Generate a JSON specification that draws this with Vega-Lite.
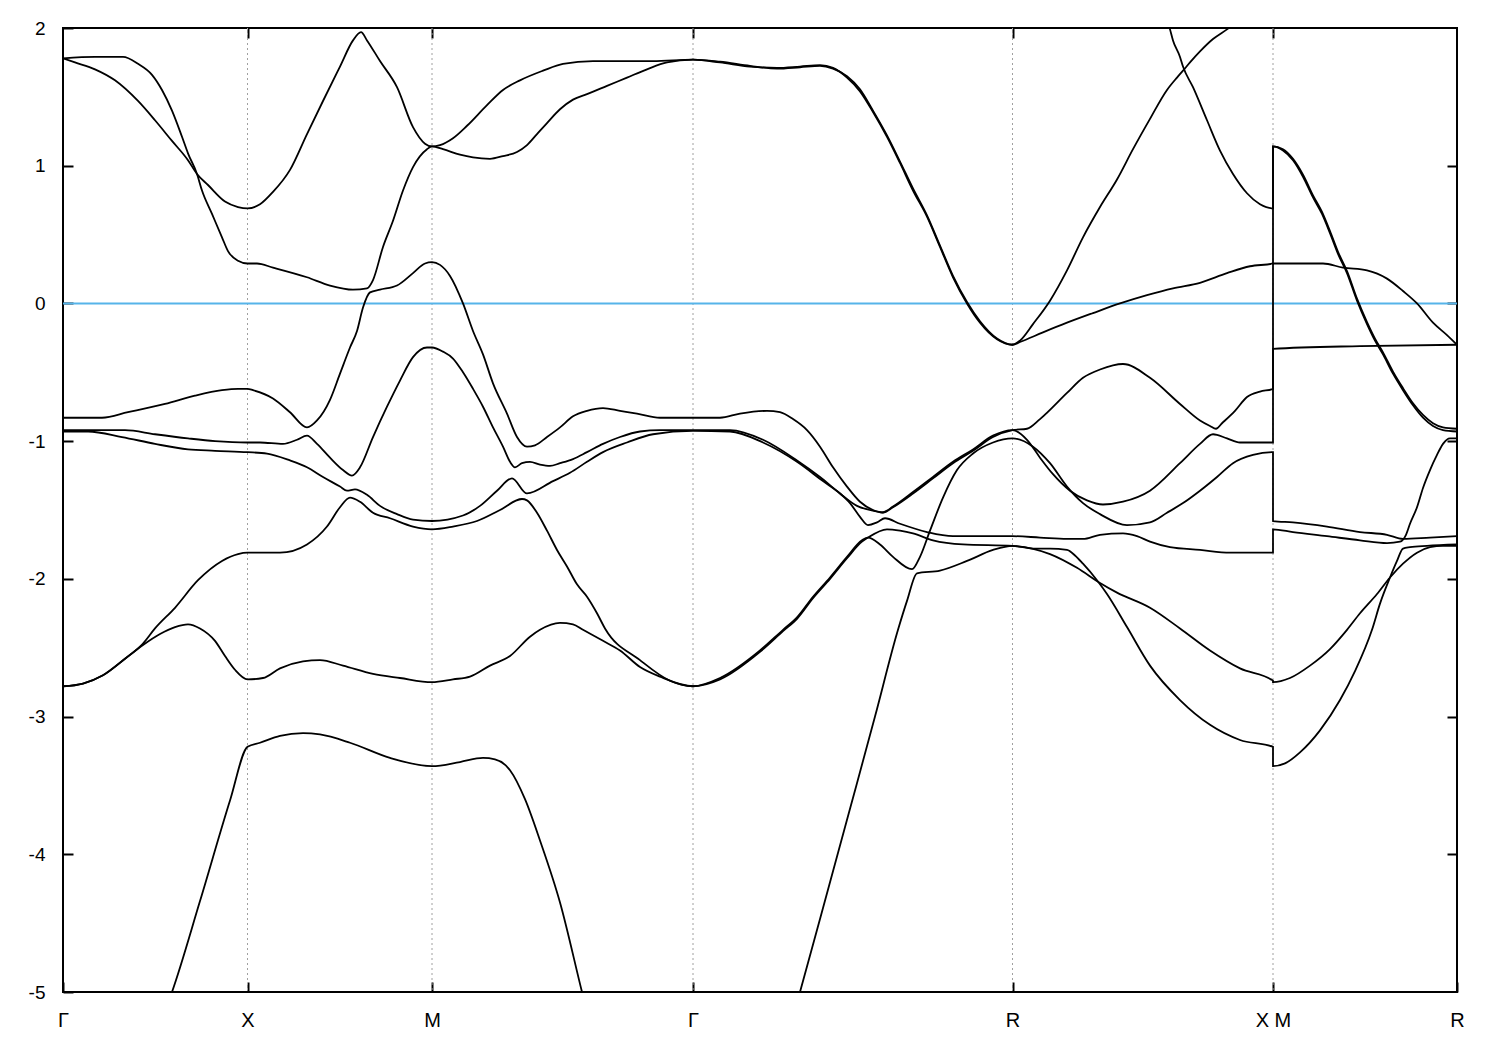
{
  "$schema": "https://vega.github.io/schema/vega-lite/v6.json",
  "width": 1394,
  "height": 964,
  "autosize": {"type": "none"},
  "padding": {"left": 63, "top": 28, "right": 43, "bottom": 58},
  "background": "white",
  "config": {"view": {"stroke": "black", "strokeWidth": 2}, "font": "Liberation Sans"},
  "datasets": {
    "bands": [
{"b":"1","k":0,"e":1.78},{"b":"1","k":12,"e":1.75},{"b":"1","k":32,"e":1.70},{"b":"1","k":52,"e":1.62},{"b":"1","k":75,"e":1.47},{"b":"1","k":92,"e":1.33},{"b":"1","k":109,"e":1.18},{"b":"1","k":125,"e":1.04},{"b":"1","k":134,"e":0.94},{"b":"1","k":145,"e":0.86},{"b":"1","k":162,"e":0.74},{"b":"1","k":175,"e":0.70},{"b":"1","k":184.5,"e":0.69},{"b":"1","k":197,"e":0.72},{"b":"1","k":210,"e":0.81},{"b":"1","k":227,"e":0.97},{"b":"1","k":244,"e":1.23},{"b":"1","k":260,"e":1.47},{"b":"1","k":277,"e":1.72},{"b":"1","k":290,"e":1.91},{"b":"1","k":298,"e":1.97},{"b":"1","k":304,"e":1.91},{"b":"1","k":317,"e":1.76},{"b":"1","k":334,"e":1.57},{"b":"1","k":350,"e":1.28},{"b":"1","k":362,"e":1.16},{"b":"1","k":369,"e":1.14},{"b":"1","k":377,"e":1.15},{"b":"1","k":390,"e":1.20},{"b":"1","k":404,"e":1.29},{"b":"1","k":424,"e":1.44},{"b":"1","k":440,"e":1.55},{"b":"1","k":457,"e":1.62},{"b":"1","k":480,"e":1.69},{"b":"1","k":500,"e":1.74},{"b":"1","k":530,"e":1.76},{"b":"1","k":590,"e":1.76},{"b":"1","k":630,"e":1.77},{"b":"1","k":657,"e":1.75},{"b":"1","k":687,"e":1.72},{"b":"1","k":714,"e":1.71},{"b":"1","k":737,"e":1.72},{"b":"1","k":757,"e":1.73},{"b":"1","k":770,"e":1.71},{"b":"1","k":784,"e":1.64},{"b":"1","k":797,"e":1.54},{"b":"1","k":810,"e":1.39},{"b":"1","k":824,"e":1.21},{"b":"1","k":837,"e":1.02},{"b":"1","k":850,"e":0.82},{"b":"1","k":864,"e":0.63},{"b":"1","k":877,"e":0.41},{"b":"1","k":890,"e":0.19},{"b":"1","k":904,"e":0.00},{"b":"1","k":917,"e":-0.14},{"b":"1","k":934,"e":-0.26},{"b":"1","k":949.5,"e":-0.30},{"b":"1","k":957,"e":-0.27},{"b":"1","k":970,"e":-0.15},{"b":"1","k":987,"e":0.02},{"b":"1","k":1004,"e":0.24},{"b":"1","k":1020,"e":0.48},{"b":"1","k":1037,"e":0.70},{"b":"1","k":1054,"e":0.90},{"b":"1","k":1070,"e":1.12},{"b":"1","k":1087,"e":1.34},{"b":"1","k":1104,"e":1.55},{"b":"1","k":1114,"e":1.64},{"b":"1","k":1120,"e":1.69},{"b":"1","k":1127,"e":1.75},{"b":"1","k":1137,"e":1.83},{"b":"1","k":1150,"e":1.92},{"b":"1","k":1164,"e":1.99},{"b":"1","k":1210,"e":2.25},
{"b":"2","k":0,"e":1.78},{"b":"2","k":32,"e":1.79},{"b":"2","k":60,"e":1.79},{"b":"2","k":75,"e":1.74},{"b":"2","k":89,"e":1.66},{"b":"2","k":99,"e":1.55},{"b":"2","k":109,"e":1.40},{"b":"2","k":119,"e":1.21},{"b":"2","k":125,"e":1.09},{"b":"2","k":134,"e":0.94},{"b":"2","k":139,"e":0.82},{"b":"2","k":149,"e":0.65},{"b":"2","k":159,"e":0.48},{"b":"2","k":165,"e":0.38},{"b":"2","k":175,"e":0.31},{"b":"2","k":184.5,"e":0.29},{"b":"2","k":194,"e":0.29},{"b":"2","k":210,"e":0.26},{"b":"2","k":244,"e":0.19},{"b":"2","k":267,"e":0.13},{"b":"2","k":290,"e":0.10},{"b":"2","k":304,"e":0.11},{"b":"2","k":310,"e":0.17},{"b":"2","k":320,"e":0.41},{"b":"2","k":330,"e":0.60},{"b":"2","k":340,"e":0.82},{"b":"2","k":350,"e":0.99},{"b":"2","k":364,"e":1.12},{"b":"2","k":369,"e":1.14},{"b":"2","k":380,"e":1.12},{"b":"2","k":397,"e":1.08},{"b":"2","k":410,"e":1.06},{"b":"2","k":427,"e":1.05},{"b":"2","k":440,"e":1.07},{"b":"2","k":454,"e":1.10},{"b":"2","k":464,"e":1.15},{"b":"2","k":474,"e":1.23},{"b":"2","k":484,"e":1.31},{"b":"2","k":497,"e":1.41},{"b":"2","k":510,"e":1.48},{"b":"2","k":524,"e":1.52},{"b":"2","k":544,"e":1.58},{"b":"2","k":564,"e":1.64},{"b":"2","k":584,"e":1.70},{"b":"2","k":604,"e":1.75},{"b":"2","k":630,"e":1.77},{"b":"2","k":657,"e":1.755},{"b":"2","k":687,"e":1.725},{"b":"2","k":714,"e":1.705},{"b":"2","k":737,"e":1.715},{"b":"2","k":757,"e":1.725},{"b":"2","k":770,"e":1.705},{"b":"2","k":784,"e":1.65},{"b":"2","k":797,"e":1.555},{"b":"2","k":810,"e":1.40},{"b":"2","k":824,"e":1.22},{"b":"2","k":837,"e":1.03},{"b":"2","k":850,"e":0.835},{"b":"2","k":864,"e":0.64},{"b":"2","k":877,"e":0.42},{"b":"2","k":890,"e":0.20},{"b":"2","k":904,"e":0.01},{"b":"2","k":917,"e":-0.13},{"b":"2","k":934,"e":-0.255},{"b":"2","k":949.5,"e":-0.30},{"b":"2","k":957,"e":-0.28},{"b":"2","k":980,"e":-0.21},{"b":"2","k":1004,"e":-0.14},{"b":"2","k":1030,"e":-0.07},{"b":"2","k":1057,"e":0.00},{"b":"2","k":1084,"e":0.06},{"b":"2","k":1110,"e":0.11},{"b":"2","k":1137,"e":0.15},{"b":"2","k":1164,"e":0.22},{"b":"2","k":1187,"e":0.27},{"b":"2","k":1210,"e":0.29},{"b":"2","k":1210,"e":1.14},{"b":"2","k":1220,"e":1.11},{"b":"2","k":1230,"e":1.04},{"b":"2","k":1240,"e":0.92},{"b":"2","k":1250,"e":0.77},{"b":"2","k":1259,"e":0.65},{"b":"2","k":1267,"e":0.51},{"b":"2","k":1275,"e":0.36},{"b":"2","k":1284,"e":0.22},{"b":"2","k":1294,"e":0.02},{"b":"2","k":1304,"e":-0.15},{"b":"2","k":1312,"e":-0.27},{"b":"2","k":1320,"e":-0.37},{"b":"2","k":1330,"e":-0.51},{"b":"2","k":1340,"e":-0.63},{"b":"2","k":1350,"e":-0.74},{"b":"2","k":1360,"e":-0.83},{"b":"2","k":1370,"e":-0.89},{"b":"2","k":1380,"e":-0.92},{"b":"2","k":1394,"e":-0.93},
{"b":"9","k":1099,"e":2.2},{"b":"9","k":1107,"e":1.99},{"b":"9","k":1110,"e":1.91},{"b":"9","k":1117,"e":1.79},{"b":"9","k":1120,"e":1.72},{"b":"9","k":1130,"e":1.57},{"b":"9","k":1144,"e":1.33},{"b":"9","k":1157,"e":1.11},{"b":"9","k":1170,"e":0.94},{"b":"9","k":1184,"e":0.80},{"b":"9","k":1197,"e":0.72},{"b":"9","k":1210,"e":0.69},{"b":"9","k":1210,"e":1.14},{"b":"9","k":1220,"e":1.12},{"b":"9","k":1230,"e":1.05},{"b":"9","k":1240,"e":0.935},{"b":"9","k":1250,"e":0.785},{"b":"9","k":1259,"e":0.665},{"b":"9","k":1267,"e":0.525},{"b":"9","k":1275,"e":0.375},{"b":"9","k":1284,"e":0.235},{"b":"9","k":1294,"e":0.035},{"b":"9","k":1304,"e":-0.135},{"b":"9","k":1312,"e":-0.255},{"b":"9","k":1320,"e":-0.355},{"b":"9","k":1330,"e":-0.495},{"b":"9","k":1340,"e":-0.615},{"b":"9","k":1350,"e":-0.725},{"b":"9","k":1360,"e":-0.81},{"b":"9","k":1370,"e":-0.87},{"b":"9","k":1380,"e":-0.90},{"b":"9","k":1394,"e":-0.91},
{"b":"3","k":0,"e":-0.83},{"b":"3","k":39,"e":-0.83},{"b":"3","k":65,"e":-0.79},{"b":"3","k":102,"e":-0.73},{"b":"3","k":132,"e":-0.67},{"b":"3","k":159,"e":-0.63},{"b":"3","k":175,"e":-0.62},{"b":"3","k":184.5,"e":-0.62},{"b":"3","k":190,"e":-0.63},{"b":"3","k":210,"e":-0.69},{"b":"3","k":227,"e":-0.79},{"b":"3","k":244,"e":-0.90},{"b":"3","k":254,"e":-0.85},{"b":"3","k":267,"e":-0.70},{"b":"3","k":277,"e":-0.51},{"b":"3","k":287,"e":-0.32},{"b":"3","k":294,"e":-0.20},{"b":"3","k":300,"e":-0.03},{"b":"3","k":307,"e":0.08},{"b":"3","k":317,"e":0.10},{"b":"3","k":334,"e":0.13},{"b":"3","k":350,"e":0.22},{"b":"3","k":362,"e":0.29},{"b":"3","k":369,"e":0.30},{"b":"3","k":377,"e":0.28},{"b":"3","k":387,"e":0.20},{"b":"3","k":400,"e":0.00},{"b":"3","k":410,"e":-0.20},{"b":"3","k":420,"e":-0.37},{"b":"3","k":430,"e":-0.58},{"b":"3","k":444,"e":-0.80},{"b":"3","k":454,"e":-0.97},{"b":"3","k":464,"e":-1.04},{"b":"3","k":472,"e":-1.03},{"b":"3","k":484,"e":-0.97},{"b":"3","k":497,"e":-0.90},{"b":"3","k":510,"e":-0.82},{"b":"3","k":524,"e":-0.78},{"b":"3","k":540,"e":-0.76},{"b":"3","k":557,"e":-0.78},{"b":"3","k":574,"e":-0.80},{"b":"3","k":597,"e":-0.83},{"b":"3","k":630,"e":-0.83},{"b":"3","k":657,"e":-0.83},{"b":"3","k":677,"e":-0.80},{"b":"3","k":704,"e":-0.78},{"b":"3","k":717,"e":-0.79},{"b":"3","k":730,"e":-0.84},{"b":"3","k":744,"e":-0.92},{"b":"3","k":757,"e":-1.04},{"b":"3","k":770,"e":-1.19},{"b":"3","k":784,"e":-1.33},{"b":"3","k":797,"e":-1.44},{"b":"3","k":810,"e":-1.50},{"b":"3","k":820,"e":-1.52},{"b":"3","k":830,"e":-1.48},{"b":"3","k":850,"e":-1.38},{"b":"3","k":870,"e":-1.27},{"b":"3","k":890,"e":-1.16},{"b":"3","k":910,"e":-1.07},{"b":"3","k":930,"e":-0.97},{"b":"3","k":949.5,"e":-0.92},{"b":"3","k":964,"e":-0.91},{"b":"3","k":977,"e":-0.84},{"b":"3","k":1004,"e":-0.65},{"b":"3","k":1020,"e":-0.54},{"b":"3","k":1037,"e":-0.48},{"b":"3","k":1060,"e":-0.44},{"b":"3","k":1087,"e":-0.54},{"b":"3","k":1117,"e":-0.73},{"b":"3","k":1137,"e":-0.85},{"b":"3","k":1147,"e":-0.89},{"b":"3","k":1153,"e":-0.91},{"b":"3","k":1159,"e":-0.87},{"b":"3","k":1172,"e":-0.78},{"b":"3","k":1184,"e":-0.68},{"b":"3","k":1197,"e":-0.64},{"b":"3","k":1210,"e":-0.62},{"b":"3","k":1210,"e":0.29},{"b":"3","k":1237,"e":0.29},{"b":"3","k":1260,"e":0.29},{"b":"3","k":1280,"e":0.26},{"b":"3","k":1304,"e":0.24},{"b":"3","k":1324,"e":0.18},{"b":"3","k":1340,"e":0.09},{"b":"3","k":1354,"e":0.00},{"b":"3","k":1370,"e":-0.14},{"b":"3","k":1384,"e":-0.23},{"b":"3","k":1394,"e":-0.30},
{"b":"4","k":0,"e":-0.92},{"b":"4","k":62,"e":-0.92},{"b":"4","k":92,"e":-0.95},{"b":"4","k":125,"e":-0.98},{"b":"4","k":152,"e":-1.00},{"b":"4","k":184.5,"e":-1.01},{"b":"4","k":197,"e":-1.01},{"b":"4","k":220,"e":-1.02},{"b":"4","k":234,"e":-0.99},{"b":"4","k":244,"e":-0.96},{"b":"4","k":254,"e":-1.02},{"b":"4","k":267,"e":-1.12},{"b":"4","k":280,"e":-1.21},{"b":"4","k":289,"e":-1.25},{"b":"4","k":297,"e":-1.19},{"b":"4","k":310,"e":-0.97},{"b":"4","k":324,"e":-0.75},{"b":"4","k":337,"e":-0.56},{"b":"4","k":350,"e":-0.39},{"b":"4","k":364,"e":-0.32},{"b":"4","k":369,"e":-0.32},{"b":"4","k":380,"e":-0.35},{"b":"4","k":390,"e":-0.40},{"b":"4","k":400,"e":-0.50},{"b":"4","k":410,"e":-0.62},{"b":"4","k":420,"e":-0.75},{"b":"4","k":430,"e":-0.90},{"b":"4","k":440,"e":-1.04},{"b":"4","k":447,"e":-1.15},{"b":"4","k":452,"e":-1.19},{"b":"4","k":459,"e":-1.16},{"b":"4","k":467,"e":-1.15},{"b":"4","k":477,"e":-1.17},{"b":"4","k":487,"e":-1.18},{"b":"4","k":497,"e":-1.16},{"b":"4","k":510,"e":-1.13},{"b":"4","k":524,"e":-1.08},{"b":"4","k":540,"e":-1.02},{"b":"4","k":557,"e":-0.97},{"b":"4","k":577,"e":-0.93},{"b":"4","k":597,"e":-0.92},{"b":"4","k":630,"e":-0.92},{"b":"4","k":667,"e":-0.92},{"b":"4","k":700,"e":-0.99},{"b":"4","k":734,"e":-1.14},{"b":"4","k":757,"e":-1.26},{"b":"4","k":777,"e":-1.38},{"b":"4","k":794,"e":-1.47},{"b":"4","k":810,"e":-1.505},{"b":"4","k":820,"e":-1.515},{"b":"4","k":830,"e":-1.475},{"b":"4","k":850,"e":-1.37},{"b":"4","k":870,"e":-1.26},{"b":"4","k":890,"e":-1.15},{"b":"4","k":910,"e":-1.06},{"b":"4","k":930,"e":-0.96},{"b":"4","k":949.5,"e":-0.92},{"b":"4","k":964,"e":-0.99},{"b":"4","k":977,"e":-1.12},{"b":"4","k":990,"e":-1.24},{"b":"4","k":1007,"e":-1.36},{"b":"4","k":1024,"e":-1.43},{"b":"4","k":1040,"e":-1.46},{"b":"4","k":1060,"e":-1.44},{"b":"4","k":1087,"e":-1.36},{"b":"4","k":1117,"e":-1.16},{"b":"4","k":1137,"e":-1.02},{"b":"4","k":1150,"e":-0.95},{"b":"4","k":1164,"e":-0.98},{"b":"4","k":1177,"e":-1.01},{"b":"4","k":1210,"e":-1.01},{"b":"4","k":1210,"e":-0.33},{"b":"4","k":1297,"e":-0.31},{"b":"4","k":1394,"e":-0.30},
{"b":"5","k":0,"e":-0.93},{"b":"5","k":25,"e":-0.93},{"b":"5","k":59,"e":-0.97},{"b":"5","k":92,"e":-1.02},{"b":"5","k":125,"e":-1.06},{"b":"5","k":152,"e":-1.07},{"b":"5","k":184.5,"e":-1.08},{"b":"5","k":204,"e":-1.09},{"b":"5","k":227,"e":-1.14},{"b":"5","k":244,"e":-1.19},{"b":"5","k":260,"e":-1.26},{"b":"5","k":277,"e":-1.33},{"b":"5","k":284,"e":-1.36},{"b":"5","k":292,"e":-1.35},{"b":"5","k":304,"e":-1.39},{"b":"5","k":317,"e":-1.47},{"b":"5","k":334,"e":-1.53},{"b":"5","k":350,"e":-1.57},{"b":"5","k":369,"e":-1.58},{"b":"5","k":400,"e":-1.54},{"b":"5","k":417,"e":-1.47},{"b":"5","k":434,"e":-1.36},{"b":"5","k":449,"e":-1.27},{"b":"5","k":464,"e":-1.38},{"b":"5","k":490,"e":-1.29},{"b":"5","k":507,"e":-1.23},{"b":"5","k":524,"e":-1.15},{"b":"5","k":540,"e":-1.08},{"b":"5","k":564,"e":-1.01},{"b":"5","k":590,"e":-0.95},{"b":"5","k":630,"e":-0.925},{"b":"5","k":667,"e":-0.93},{"b":"5","k":700,"e":-1.01},{"b":"5","k":734,"e":-1.15},{"b":"5","k":760,"e":-1.29},{"b":"5","k":777,"e":-1.38},{"b":"5","k":787,"e":-1.45},{"b":"5","k":797,"e":-1.55},{"b":"5","k":805,"e":-1.61},{"b":"5","k":814,"e":-1.59},{"b":"5","k":822,"e":-1.56},{"b":"5","k":837,"e":-1.60},{"b":"5","k":864,"e":-1.66},{"b":"5","k":890,"e":-1.69},{"b":"5","k":949.5,"e":-1.69},{"b":"5","k":977,"e":-1.70},{"b":"5","k":1004,"e":-1.71},{"b":"5","k":1020,"e":-1.71},{"b":"5","k":1037,"e":-1.68},{"b":"5","k":1060,"e":-1.67},{"b":"5","k":1074,"e":-1.69},{"b":"5","k":1087,"e":-1.73},{"b":"5","k":1107,"e":-1.77},{"b":"5","k":1137,"e":-1.79},{"b":"5","k":1167,"e":-1.81},{"b":"5","k":1210,"e":-1.81},{"b":"5","k":1210,"e":-1.64},{"b":"5","k":1230,"e":-1.66},{"b":"5","k":1264,"e":-1.69},{"b":"5","k":1297,"e":-1.72},{"b":"5","k":1324,"e":-1.74},{"b":"5","k":1337,"e":-1.73},{"b":"5","k":1343,"e":-1.68},{"b":"5","k":1347,"e":-1.60},{"b":"5","k":1354,"e":-1.48},{"b":"5","k":1360,"e":-1.34},{"b":"5","k":1367,"e":-1.21},{"b":"5","k":1374,"e":-1.10},{"b":"5","k":1380,"e":-1.02},{"b":"5","k":1387,"e":-0.98},{"b":"5","k":1394,"e":-0.98},
{"b":"6","k":0,"e":-2.78},{"b":"6","k":20,"e":-2.76},{"b":"6","k":40,"e":-2.70},{"b":"6","k":62,"e":-2.58},{"b":"6","k":80,"e":-2.47},{"b":"6","k":92,"e":-2.36},{"b":"6","k":112,"e":-2.21},{"b":"6","k":135,"e":-2.01},{"b":"6","k":159,"e":-1.87},{"b":"6","k":175,"e":-1.82},{"b":"6","k":184.5,"e":-1.81},{"b":"6","k":217,"e":-1.81},{"b":"6","k":244,"e":-1.75},{"b":"6","k":264,"e":-1.62},{"b":"6","k":277,"e":-1.48},{"b":"6","k":287,"e":-1.41},{"b":"6","k":297,"e":-1.44},{"b":"6","k":310,"e":-1.52},{"b":"6","k":327,"e":-1.56},{"b":"6","k":350,"e":-1.62},{"b":"6","k":369,"e":-1.64},{"b":"6","k":390,"e":-1.62},{"b":"6","k":414,"e":-1.58},{"b":"6","k":437,"e":-1.50},{"b":"6","k":459,"e":-1.42},{"b":"6","k":464,"e":-1.43},{"b":"6","k":474,"e":-1.52},{"b":"6","k":484,"e":-1.65},{"b":"6","k":494,"e":-1.79},{"b":"6","k":504,"e":-1.91},{"b":"6","k":514,"e":-2.04},{"b":"6","k":524,"e":-2.13},{"b":"6","k":534,"e":-2.25},{"b":"6","k":542,"e":-2.36},{"b":"6","k":577,"e":-2.59},{"b":"6","k":607,"e":-2.74},{"b":"6","k":630,"e":-2.78},{"b":"6","k":657,"e":-2.72},{"b":"6","k":697,"e":-2.52},{"b":"6","k":720,"e":-2.37},{"b":"6","k":734,"e":-2.28},{"b":"6","k":750,"e":-2.13},{"b":"6","k":767,"e":-1.99},{"b":"6","k":784,"e":-1.84},{"b":"6","k":799,"e":-1.72},{"b":"6","k":805,"e":-1.70},{"b":"6","k":817,"e":-1.75},{"b":"6","k":830,"e":-1.84},{"b":"6","k":849,"e":-1.93},{"b":"6","k":857,"e":-1.84},{"b":"6","k":867,"e":-1.65},{"b":"6","k":880,"e":-1.41},{"b":"6","k":894,"e":-1.21},{"b":"6","k":910,"e":-1.09},{"b":"6","k":930,"e":-1.01},{"b":"6","k":949.5,"e":-0.98},{"b":"6","k":970,"e":-1.04},{"b":"6","k":987,"e":-1.16},{"b":"6","k":1004,"e":-1.33},{"b":"6","k":1020,"e":-1.45},{"b":"6","k":1037,"e":-1.53},{"b":"6","k":1064,"e":-1.61},{"b":"6","k":1087,"e":-1.59},{"b":"6","k":1104,"e":-1.52},{"b":"6","k":1120,"e":-1.45},{"b":"6","k":1137,"e":-1.36},{"b":"6","k":1154,"e":-1.26},{"b":"6","k":1170,"e":-1.16},{"b":"6","k":1190,"e":-1.10},{"b":"6","k":1210,"e":-1.08},{"b":"6","k":1210,"e":-1.58},{"b":"6","k":1230,"e":-1.59},{"b":"6","k":1264,"e":-1.62},{"b":"6","k":1297,"e":-1.66},{"b":"6","k":1324,"e":-1.68},{"b":"6","k":1340,"e":-1.71},{"b":"6","k":1367,"e":-1.70},{"b":"6","k":1394,"e":-1.69},
{"b":"7","k":0,"e":-2.78},{"b":"7","k":20,"e":-2.76},{"b":"7","k":40,"e":-2.70},{"b":"7","k":62,"e":-2.58},{"b":"7","k":80,"e":-2.48},{"b":"7","k":97,"e":-2.40},{"b":"7","k":112,"e":-2.35},{"b":"7","k":125,"e":-2.33},{"b":"7","k":137,"e":-2.36},{"b":"7","k":152,"e":-2.45},{"b":"7","k":162,"e":-2.56},{"b":"7","k":172,"e":-2.66},{"b":"7","k":184.5,"e":-2.73},{"b":"7","k":200,"e":-2.72},{"b":"7","k":217,"e":-2.65},{"b":"7","k":240,"e":-2.60},{"b":"7","k":257,"e":-2.59},{"b":"7","k":280,"e":-2.63},{"b":"7","k":310,"e":-2.69},{"b":"7","k":337,"e":-2.72},{"b":"7","k":369,"e":-2.75},{"b":"7","k":390,"e":-2.73},{"b":"7","k":407,"e":-2.71},{"b":"7","k":427,"e":-2.63},{"b":"7","k":447,"e":-2.56},{"b":"7","k":467,"e":-2.42},{"b":"7","k":477,"e":-2.37},{"b":"7","k":497,"e":-2.32},{"b":"7","k":510,"e":-2.33},{"b":"7","k":520,"e":-2.37},{"b":"7","k":540,"e":-2.45},{"b":"7","k":557,"e":-2.52},{"b":"7","k":577,"e":-2.64},{"b":"7","k":597,"e":-2.71},{"b":"7","k":630,"e":-2.78},{"b":"7","k":657,"e":-2.73},{"b":"7","k":697,"e":-2.53},{"b":"7","k":720,"e":-2.38},{"b":"7","k":734,"e":-2.29},{"b":"7","k":750,"e":-2.14},{"b":"7","k":767,"e":-2.00},{"b":"7","k":784,"e":-1.85},{"b":"7","k":799,"e":-1.73},{"b":"7","k":805,"e":-1.70},{"b":"7","k":824,"e":-1.64},{"b":"7","k":837,"e":-1.65},{"b":"7","k":850,"e":-1.67},{"b":"7","k":870,"e":-1.72},{"b":"7","k":900,"e":-1.75},{"b":"7","k":949.5,"e":-1.76},{"b":"7","k":987,"e":-1.82},{"b":"7","k":1014,"e":-1.92},{"b":"7","k":1037,"e":-2.03},{"b":"7","k":1054,"e":-2.10},{"b":"7","k":1087,"e":-2.21},{"b":"7","k":1117,"e":-2.36},{"b":"7","k":1147,"e":-2.52},{"b":"7","k":1177,"e":-2.65},{"b":"7","k":1210,"e":-2.74},{"b":"7","k":1210,"e":-2.75},{"b":"7","k":1227,"e":-2.72},{"b":"7","k":1247,"e":-2.63},{"b":"7","k":1267,"e":-2.51},{"b":"7","k":1284,"e":-2.37},{"b":"7","k":1297,"e":-2.25},{"b":"7","k":1314,"e":-2.11},{"b":"7","k":1327,"e":-1.99},{"b":"7","k":1340,"e":-1.89},{"b":"7","k":1354,"e":-1.81},{"b":"7","k":1367,"e":-1.77},{"b":"7","k":1380,"e":-1.76},{"b":"7","k":1394,"e":-1.76},
{"b":"8","k":0,"e":-6.6},{"b":"8","k":77,"e":-5.55},{"b":"8","k":109,"e":-5.0},{"b":"8","k":137,"e":-4.34},{"b":"8","k":167,"e":-3.61},{"b":"8","k":184.5,"e":-3.22},{"b":"8","k":197,"e":-3.19},{"b":"8","k":217,"e":-3.14},{"b":"8","k":240,"e":-3.12},{"b":"8","k":257,"e":-3.13},{"b":"8","k":287,"e":-3.19},{"b":"8","k":327,"e":-3.30},{"b":"8","k":369,"e":-3.36},{"b":"8","k":397,"e":-3.33},{"b":"8","k":420,"e":-3.30},{"b":"8","k":432,"e":-3.31},{"b":"8","k":447,"e":-3.39},{"b":"8","k":462,"e":-3.60},{"b":"8","k":477,"e":-3.90},{"b":"8","k":497,"e":-4.35},{"b":"8","k":519,"e":-5.0},{"b":"8","k":540,"e":-5.6},{"b":"8","k":630,"e":-6.6},{"b":"8","k":700,"e":-5.99},{"b":"8","k":737,"e":-5.0},{"b":"8","k":757,"e":-4.47},{"b":"8","k":787,"e":-3.67},{"b":"8","k":812,"e":-3.0},{"b":"8","k":835,"e":-2.37},{"b":"8","k":844,"e":-2.16},{"b":"8","k":854,"e":-1.96},{"b":"8","k":877,"e":-1.94},{"b":"8","k":904,"e":-1.87},{"b":"8","k":930,"e":-1.79},{"b":"8","k":949.5,"e":-1.76},{"b":"8","k":970,"e":-1.78},{"b":"8","k":987,"e":-1.78},{"b":"8","k":1004,"e":-1.79},{"b":"8","k":1012,"e":-1.83},{"b":"8","k":1020,"e":-1.89},{"b":"8","k":1034,"e":-2.01},{"b":"8","k":1044,"e":-2.11},{"b":"8","k":1064,"e":-2.35},{"b":"8","k":1087,"e":-2.63},{"b":"8","k":1117,"e":-2.88},{"b":"8","k":1147,"e":-3.06},{"b":"8","k":1177,"e":-3.17},{"b":"8","k":1210,"e":-3.22},{"b":"8","k":1210,"e":-3.36},{"b":"8","k":1222,"e":-3.34},{"b":"8","k":1237,"e":-3.26},{"b":"8","k":1257,"e":-3.10},{"b":"8","k":1277,"e":-2.88},{"b":"8","k":1292,"e":-2.67},{"b":"8","k":1309,"e":-2.37},{"b":"8","k":1317,"e":-2.18},{"b":"8","k":1327,"e":-1.99},{"b":"8","k":1334,"e":-1.87},{"b":"8","k":1340,"e":-1.78},{"b":"8","k":1347,"e":-1.77},{"b":"8","k":1364,"e":-1.76},{"b":"8","k":1394,"e":-1.75}
    ],
    "sympts": [{"k":184.5},{"k":369},{"k":630},{"k":949.5},{"k":1210}]
  },
  "resolve": {"axis": {"x": "independent", "y": "independent"}},
  "layer": [
    {
      "data": {"name": "sympts"},
      "mark": {"type": "rule", "stroke": "#a0a0a0", "strokeWidth": 1, "strokeDash": [2, 3]},
      "encoding": {
        "x": {"field": "k", "type": "quantitative",
              "scale": {"domain": [0, 1394], "nice": false, "zero": false},
              "axis": {"orient": "top", "values": [184.5, 369, 630, 949.5, 1210], "labels": false, "domain": false, "grid": false, "ticks": true, "tickSize": -10, "tickColor": "black", "tickWidth": 2, "title": null}}
      }
    },
    {
      "data": {"values": [{"z": 0}]},
      "mark": {"type": "rule", "stroke": "#56B4E9", "strokeWidth": 2},
      "encoding": {
        "y": {"field": "z", "type": "quantitative",
              "scale": {"domain": [-5, 2], "nice": false, "zero": false},
              "axis": {"orient": "right", "values": [-4, -3, -2, -1, 0, 1], "labels": false, "domain": false, "grid": false, "ticks": true, "tickSize": -10, "tickColor": "black", "tickWidth": 2, "title": null}}
      }
    },
    {
      "data": {"name": "bands"},
      "mark": {"type": "line", "stroke": "black", "strokeWidth": 1.8, "clip": true, "interpolate": "monotone"},
      "encoding": {
        "x": {"field": "k", "type": "quantitative",
              "scale": {"domain": [0, 1394], "nice": false, "zero": false},
              "axis": {"orient": "bottom", "values": [0, 184.5, 369, 630, 949.5, 1210, 1394],
                       "labelExpr": "datum.value == 0 || datum.value == 630 ? 'Γ' : datum.value == 184.5 ? 'X' : datum.value == 369 ? 'M' : datum.value == 1210 ? 'X M' : 'R'",
                       "labelFlush": false, "labelOverlap": false, "labelBound": false,
                       "labelFont": "Liberation Sans", "labelFontSize": 20, "labelColor": "black", "labelPadding": 28,
                       "domain": false, "grid": false, "ticks": true, "tickSize": -10, "tickColor": "black", "tickWidth": 2, "title": null}},
        "y": {"field": "e", "type": "quantitative",
              "scale": {"domain": [-5, 2], "nice": false, "zero": false},
              "axis": {"orient": "left", "values": [-5, -4, -3, -2, -1, 0, 1, 2],
                       "labelExpr": "'' + datum.value",
                       "labelFont": "Liberation Sans", "labelFontSize": 19, "labelColor": "black", "labelPadding": 28,
                       "domain": false, "grid": false, "ticks": true, "tickSize": -10, "tickColor": "black", "tickWidth": 2, "title": null}},
        "detail": {"field": "b", "type": "nominal"},
        "order": {"value": null}
      }
    }
  ]
}
